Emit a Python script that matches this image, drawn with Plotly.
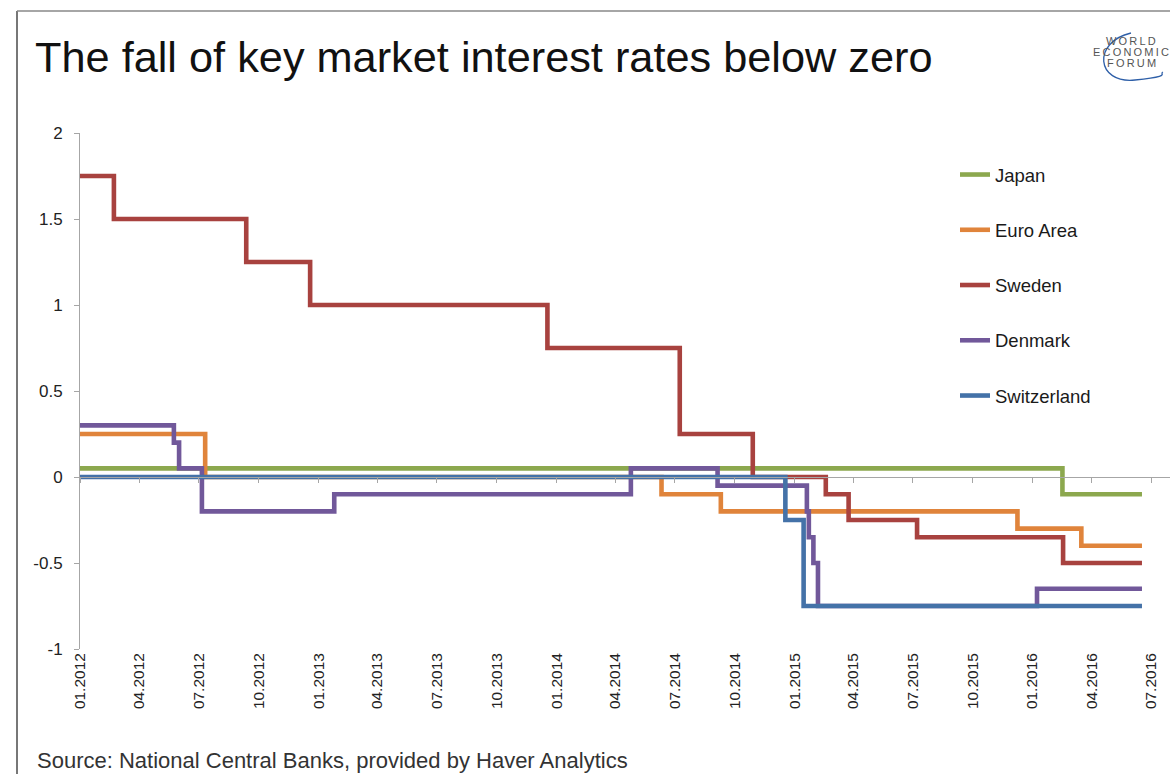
import plotly.graph_objects as go

# ---------------- data ----------------
end_date = "2016-06-17"

japan_dates = ["2012-01-01", "2016-02-16", end_date]
japan_vals = [0.05, -0.10, -0.10]

euro_dates = ["2012-01-01", "2012-07-11", "2014-06-11", "2014-09-10", "2015-12-09", "2016-03-16", end_date]
euro_vals = [0.25, 0.00, -0.10, -0.20, -0.30, -0.40, -0.40]

sweden_dates = ["2012-01-01", "2012-02-22", "2012-09-12", "2012-12-19", "2013-12-18", "2014-07-09",
                "2014-10-29", "2015-02-18", "2015-03-25", "2015-07-08", "2016-02-17", end_date]
sweden_vals = [1.75, 1.50, 1.25, 1.00, 0.75, 0.25, 0.00, -0.10, -0.25, -0.35, -0.50, -0.50]

denmark_dates = ["2012-01-01", "2012-05-24", "2012-06-01", "2012-07-06", "2013-01-25", "2014-04-25",
                 "2014-09-05", "2015-01-20", "2015-01-23", "2015-01-30", "2015-02-06", "2016-01-08", end_date]
denmark_vals = [0.30, 0.20, 0.05, -0.20, -0.10, 0.05, -0.05, -0.20, -0.35, -0.50, -0.75, -0.65, -0.65]

swiss_dates = ["2012-01-01", "2014-12-18", "2015-01-15", end_date]
swiss_vals = [0.00, -0.25, -0.75, -0.75]

series_names = ["Japan", "Euro Area", "Sweden", "Denmark", "Switzerland"]
series_dates = [japan_dates, euro_dates, sweden_dates, denmark_dates, swiss_dates]
series_vals = [japan_vals, euro_vals, sweden_vals, denmark_vals, swiss_vals]
series_colors = ["#8CA84E", "#E0843B", "#A8423F", "#71589A", "#4472A8"]

tick_dates = ["2012-01-01", "2012-04-01", "2012-07-01", "2012-10-01", "2013-01-01", "2013-04-01",
              "2013-07-01", "2013-10-01", "2014-01-01", "2014-04-01", "2014-07-01", "2014-10-01",
              "2015-01-01", "2015-04-01", "2015-07-01", "2015-10-01", "2016-01-01", "2016-04-01",
              "2016-07-01"]
tick_labels = ["01.2012", "04.2012", "07.2012", "10.2012", "01.2013", "04.2013", "07.2013", "10.2013",
               "01.2014", "04.2014", "07.2014", "10.2014", "01.2015", "04.2015", "07.2015", "10.2015",
               "01.2016", "04.2016", "07.2016"]

y_ticks = [-1, -0.5, 0, 0.5, 1, 1.5, 2]
y_labels = ["-1", "-0.5", "0", "0.5", "1", "1.5", "2"]

x_range = ["2012-01-01", "2016-07-30"]
y_range = [-1, 2]

logo_words = ["WORLD", "ECONOMIC", "FORUM"]

# ---------------- layout helpers ----------------
W, H = 1170, 774
ML, MR, MT, MB = 80, 0, 133, 125
PW, PH = W - ML - MR, H - MT - MB


def px(x):
    return (x - ML) / PW


def py(y):
    return (H - MB - y) / PH


FONT = "Liberation Sans, Arial, sans-serif"
AXIS_GRAY = "#A6A6A6"

fig = go.Figure()

for name, d, v, c in zip(series_names, series_dates, series_vals, series_colors):
    fig.add_trace(go.Scatter(
        x=d, y=v, name=name, mode="lines", line=dict(color=c, width=4.6, shape="hv"),
        legendgroup=name, hoverinfo="x+y+name",
    ))

# invisible trace to host the zero-line axis
fig.add_trace(go.Scatter(x=[x_range[0]], y=[0], xaxis="x2", yaxis="y", mode="lines",
                         opacity=0, showlegend=False, hoverinfo="skip"))

fig.update_layout(
    width=W, height=H,
    margin=dict(l=ML, r=MR, t=MT, b=MB),
    paper_bgcolor="white", plot_bgcolor="white",
    font=dict(family=FONT, color="#222222"),
    showlegend=True,
    legend=dict(x=px(955), y=py(156), xanchor="left", yanchor="top",
                font=dict(size=18.5, color="#1a1a1a"), tracegroupgap=28.2,
                bgcolor="rgba(0,0,0,0)", itemwidth=30),
    xaxis=dict(type="date", range=x_range, showline=False, showgrid=False, zeroline=False,
               tickvals=tick_dates, ticktext=tick_labels, tickangle=-90, ticks="",
               tickfont=dict(size=15.5, color="#222222")),
    xaxis2=dict(type="date", range=x_range, overlaying="x", anchor="free",
                position=(0 - y_range[0]) / (y_range[1] - y_range[0]),
                side="bottom", showline=True, linecolor=AXIS_GRAY, linewidth=1, showgrid=False, zeroline=False,
                tickvals=tick_dates, ticks="outside", ticklen=5, tickcolor=AXIS_GRAY, showticklabels=False),
    yaxis=dict(range=y_range, showline=True, linecolor=AXIS_GRAY, linewidth=1, showgrid=False, zeroline=False,
               tickvals=y_ticks, ticktext=y_labels, ticks="outside", ticklen=5, tickcolor=AXIS_GRAY,
               ticklabelstandoff=8, tickfont=dict(size=17, color="#222222")),
)

# title
fig.add_annotation(text="The fall of key market interest rates below zero", xref="paper", yref="paper",
                   x=px(33), y=py(57), xanchor="left", yanchor="middle", showarrow=False,
                   font=dict(size=43.3, color="#111111", family=FONT))
# source
fig.add_annotation(text="Source: National Central Banks, provided by Haver Analytics", xref="paper", yref="paper",
                   x=px(35), y=py(760), xanchor="left", yanchor="middle", showarrow=False,
                   font=dict(size=22, color="#333333", family=FONT))
# logo text (three lines)
for i, word in enumerate(logo_words):
    fig.add_annotation(text="\u2009".join(word), xref="paper", yref="paper",
                       x=px(1131), y=py(41 + 11 * i), xanchor="center", yanchor="middle", showarrow=False,
                       font=dict(size=11, color="#555555", family=FONT))
# logo swoosh
fig.add_shape(type="path", xref="paper", yref="paper",
              path=(f"M {px(1131)},{py(33)} C {px(1092)},{py(42)} {px(1096)},{py(84)} {px(1135)},{py(80)}"
                    f" S {px(1158)},{py(74)} {px(1163)},{py(72)}"),
              line=dict(color="#2E5FA8", width=1.3))

# frame
fig.add_shape(type="line", xref="paper", yref="paper", x0=px(17), x1=px(17), y0=py(11), y1=py(H + 5),
              line=dict(color="#777777", width=2))
fig.add_shape(type="line", xref="paper", yref="paper", x0=px(17), x1=px(W + 5), y0=py(11), y1=py(11),
              line=dict(color="#888888", width=1.5))

fig.write_html("out.html", config={"displayModeBar": False},
               post_script="document.body.style.margin='0';")
